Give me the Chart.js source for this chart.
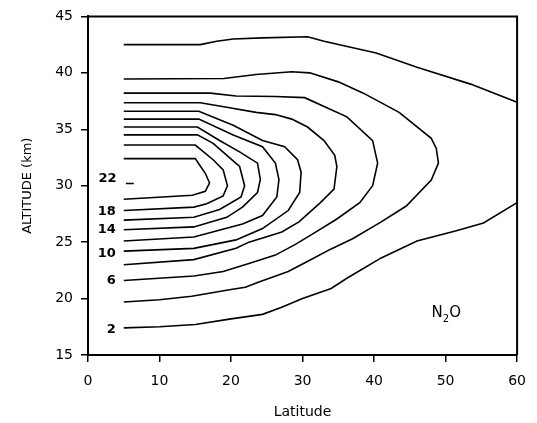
<!DOCTYPE html>
<html><head><meta charset="utf-8">
<script src="https://cdn.jsdelivr.net/npm/chart.js@4/dist/chart.umd.min.js"></script>
<style>html,body{margin:0;padding:0;background:#fff}#wrap{width:537px;height:423px}</style>
</head><body><div id="wrap"><canvas id="c" width="537" height="423"></canvas></div>
<script>
// Tick values
const xTicks = [0, 10, 20, 30, 40, 50, 60];
const yTicks = [15, 20, 25, 30, 35, 40, 45];

// Contour lines of N2O: [latitude, altitude km]
const contour2Upper = [[5,42.5],[15.7,42.5],[18,42.8],[20.3,43.0],[24.4,43.1],[30.7,43.2],[33,42.8],[40.3,41.75],[46,40.5],[53.5,39.0],[60,37.4]];
const contour2Lower = [[5,17.4],[10,17.5],[15,17.7],[20,18.2],[24.4,18.6],[27,19.2],[30,20.0],[34,20.9],[36.2,21.8],[41,23.6],[46,25.1],[51.5,26.0],[55.3,26.7],[60,28.5]];
const contour4 = [[5,19.7],[10,19.9],[14.5,20.2],[20,20.8],[22,21.0],[24,21.5],[28,22.4],[31,23.4],[34,24.4],[37,25.3],[41,26.8],[44.5,28.2],[48,30.5],[49,32.0],[48.7,33.3],[48,34.2],[43.5,36.5],[38.5,38.2],[35,39.2],[31,40.0],[28.5,40.1],[23.5,39.85],[19,39.5],[5,39.45]];
const contour6 = [[5,21.6],[14.8,22.0],[18.9,22.4],[22.5,23.1],[26.2,23.85],[29,24.8],[31.6,25.8],[34.8,27.05],[38,28.5],[39.8,30.0],[40.5,32.0],[39.8,34.0],[36.2,36.1],[30.3,37.8],[26.2,37.9],[20.7,37.95],[17.1,38.2],[5,38.2]];
const contour8 = [[5,23.0],[14.8,23.45],[20.7,24.45],[22.5,25.0],[27.1,25.9],[29.5,26.8],[32.5,28.5],[34.4,29.7],[34.8,31.7],[34.5,32.7],[33,34.0],[30.7,35.2],[28.5,35.9],[26.2,36.3],[23.5,36.5],[19.4,36.95],[15.7,37.35],[5,37.35]];
const contour10 = [[5,24.2],[14.8,24.45],[20.7,25.2],[24.4,26.2],[28,27.8],[29.6,29.4],[29.8,31.2],[29.3,32.3],[27.5,33.45],[24.4,34.0],[20.3,35.35],[15.5,36.6],[5,36.6]];
const contour12 = [[5,25.1],[14.8,25.45],[21.6,26.6],[24.4,27.35],[26.4,29.0],[26.7,30.55],[26.2,32.0],[24.4,33.45],[20.3,34.5],[15.5,35.9],[5,35.9]];
const contour14 = [[5,26.1],[14.8,26.35],[19.4,27.2],[21.6,28.1],[23.7,29.4],[24.1,30.55],[23.7,32.0],[21.2,33.0],[18.4,34.0],[15.3,35.2],[5,35.2]];
const contour16 = [[5,26.95],[14.8,27.2],[18.4,27.9],[21.4,29.0],[21.9,30.0],[21.2,31.7],[20.3,32.2],[17.5,33.75],[15.3,34.5],[5,34.5]];
const contour18 = [[5,27.8],[14.8,28.1],[16.6,28.4],[18.9,29.1],[19.5,30.0],[18.9,31.4],[17.5,32.3],[15.0,33.6],[5,33.6]];
const contour20 = [[5,28.8],[14.6,29.15],[16.4,29.5],[17,30.25],[16.4,31.1],[15.0,32.4],[5,32.4]];
const contour22 = [[5.3,30.2],[6.4,30.2]];

// Contour labels
const contourLabels = ['2', '6', '10', '14', '18', '22'];
const contourLabelLat = [3.9, 3.9, 3.9, 3.9, 3.9, 4.0];
const contourLabelAlt = [17.24, 21.55, 23.95, 26.1, 27.73, 30.6];

const speciesLabelLat = 50.1;
const speciesLabelAlt = 18.7;

const allContours = [contour2Upper, contour2Lower, contour4, contour6, contour8, contour10, contour12, contour14, contour16, contour18, contour20, contour22];

const FONT = '"DejaVu Sans", "Liberation Sans", Arial, sans-serif';

const extras = {
  id: 'extras',
  afterDraw(chart) {
    const {ctx, chartArea: a, scales: {x, y}} = chart;
    ctx.save();
    ctx.strokeStyle = '#000';
    ctx.lineWidth = 2;
    ctx.beginPath();
    ctx.moveTo(a.left, a.top);
    ctx.lineTo(a.right, a.top);
    ctx.lineTo(a.right, a.bottom);
    ctx.stroke();

    ctx.fillStyle = '#000';
    ctx.font = 'bold 13px ' + FONT;
    ctx.textAlign = 'right';
    ctx.textBaseline = 'middle';
    contourLabels.forEach((t, i) => {
      ctx.fillText(t, x.getPixelForValue(contourLabelLat[i]), y.getPixelForValue(contourLabelAlt[i]));
    });

    // N2O with subscript
    const px = x.getPixelForValue(speciesLabelLat);
    const py = y.getPixelForValue(speciesLabelAlt);
    ctx.textAlign = 'left';
    ctx.font = '15px ' + FONT;
    const wN = ctx.measureText('N').width;
    const wO = ctx.measureText('O').width;
    ctx.font = '10px ' + FONT;
    const w2 = ctx.measureText('2').width;
    const total = wN + w2 + wO;
    let cx = px - total / 2;
    ctx.font = '15px ' + FONT;
    ctx.fillText('N', cx, py);
    cx += wN;
    ctx.font = '10px ' + FONT;
    ctx.fillText('2', cx, py + 6);
    cx += w2;
    ctx.font = '15px ' + FONT;
    ctx.fillText('O', cx, py);
    ctx.restore();
  }
};

new Chart(document.getElementById('c'), {
  type: 'scatter',
  data: {
    datasets: allContours.map(pts => ({
      data: pts.map(([lat, alt]) => ({x: lat, y: alt})),
      showLine: true,
      borderColor: '#000',
      borderWidth: 1.6,
      pointRadius: 0,
      pointHoverRadius: 0,
      fill: false,
      tension: 0
    }))
  },
  options: {
    responsive: false,
    animation: false,
    events: [],
    layout: {padding: {top: 11, right: 9, left: 0, bottom: 0}},
    plugins: {legend: {display: false}, tooltip: {enabled: false}},
    scales: {
      x: {
        type: 'linear', min: 0, max: 60,
        afterBuildTicks: s => { s.ticks = xTicks.map(v => ({value: v})); },
        afterFit: s => { s.height = 68; },
        ticks: {color: '#000', font: {family: FONT, size: 14}, padding: 11, maxRotation: 0},
        grid: {drawOnChartArea: false, drawTicks: true, tickLength: 7, color: '#000', lineWidth: 1.5},
        border: {display: true, color: '#000', width: 2},
        title: {display: true, text: 'Latitude', color: '#000', font: {family: FONT, size: 14}, padding: {top: 0, bottom: 2}}
      },
      y: {
        type: 'linear', min: 15, max: 45,
        afterBuildTicks: s => { s.ticks = yTicks.map(v => ({value: v})); },
        afterFit: s => { s.width = 88; },
        ticks: {color: '#000', font: {family: FONT, size: 14}, padding: 8},
        grid: {drawOnChartArea: false, drawTicks: true, tickLength: 7, color: '#000', lineWidth: 1.5},
        border: {display: true, color: '#000', width: 2},
        title: {display: true, text: 'ALTITUDE (km)', color: '#000', font: {family: FONT, size: 13}, padding: {top: 20, bottom: 0}}
      }
    }
  },
  plugins: [extras]
});
</script>
</body></html>
